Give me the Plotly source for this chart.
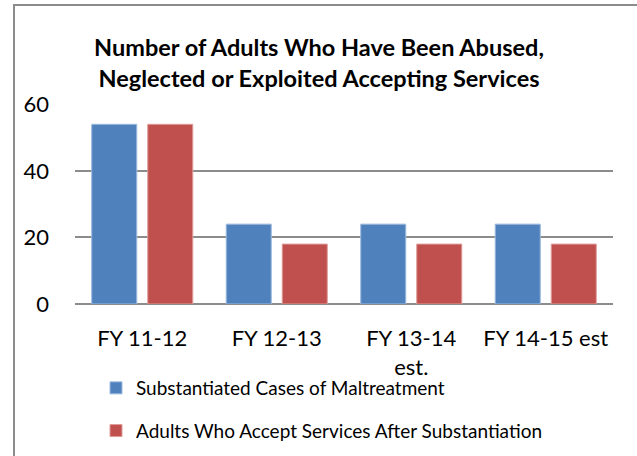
import plotly.graph_objects as go

categories = ["FY 11-12", "FY 12-13", "FY 13-14<br>est.", "FY 14-15 est"]
substantiated = [54, 24, 24, 24]
accepted = [54, 18, 18, 18]
series_names = ["Substantiated Cases of Maltreatment",
                "Adults Who Accept Services After Substantiation"]
y_ticks = [0, 20, 40, 60]

FONT = "Lato, 'Open Sans', sans-serif"

fig = go.Figure()
fig.add_trace(go.Bar(x=categories, y=substantiated, name=series_names[0],
                     marker=dict(color="#4F81BD", line=dict(color="#9DB9DE", width=1)),
                     legendgroup="a"))
fig.add_trace(go.Bar(x=categories, y=accepted, name=series_names[1],
                     marker=dict(color="#C0504D", line=dict(color="#DE9C9A", width=1)),
                     legendgroup="b"))

W, H = 637, 456
L, R, T, B = 75, 24, 104, 152
pw, ph = W - L - R, H - T - B

def px_x(px):
    return (px - L) / pw

def px_y(py):
    return (H - B - py) / ph

fig.update_layout(
    width=W, height=H,
    margin=dict(l=L, r=R, t=T, b=B, autoexpand=False),
    paper_bgcolor="white", plot_bgcolor="white",
    barmode="group", bargap=0.167, bargroupgap=0.196,
    font=dict(family=FONT, color="black"),
    title=dict(text="<b>Number of Adults Who Have Been Abused,<br>Neglected or Exploited Accepting Services</b>",
               x=319 / W, xref="container", xanchor="center",
               y=1 - 56 / H, yref="container", yanchor="middle",
               font=dict(size=23.5, family=FONT)),
    xaxis=dict(showgrid=False, showline=False, ticks="", tickfont=dict(size=22),
               ticklabelstandoff=19, automargin=False),
    yaxis=dict(range=[0, 60.1], tickvals=y_ticks, showgrid=True, gridcolor="#8C8C8C",
               gridwidth=1.5, zeroline=True, zerolinecolor="#8C8C8C", zerolinewidth=2,
               showline=False, ticks="", tickfont=dict(size=22), ticklabelstandoff=25,
               automargin=False),
    legend=dict(orientation="v", x=px_x(96), xanchor="left", y=px_y(369), yanchor="top",
                font=dict(size=19, family=FONT), tracegroupgap=15,
                itemwidth=30, bgcolor="rgba(0,0,0,0)"),
    showlegend=True,
)

fig.add_shape(type="rect", xref="paper", yref="paper",
              x0=px_x(14), x1=px_x(660), y0=px_y(480), y1=px_y(5),
              line=dict(color="#8C8C8C", width=2), fillcolor="rgba(0,0,0,0)", layer="below")

fig.write_html("out.html", config={"displayModeBar": False},
               post_script="document.body.style.margin='0px';")
